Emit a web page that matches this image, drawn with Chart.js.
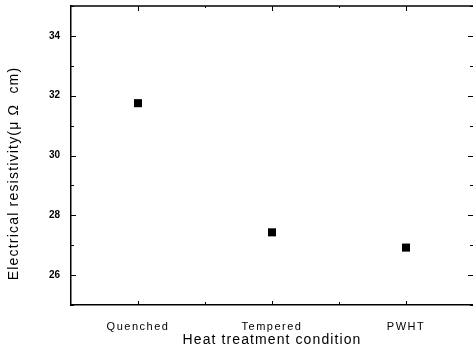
<!DOCTYPE html>
<html>
<head>
<meta charset="utf-8">
<script src="https://cdn.jsdelivr.net/npm/chart.js@4"></script>
<style>
html, body { margin: 0; padding: 0; background: #fff; }
#wrap { width: 473px; height: 349px; }
</style>
</head>
<body>
<div id="wrap"><canvas id="chart" width="473" height="349"></canvas></div>
<script>
// Data
const conditions = ['Quenched', 'Tempered', 'PWHT'];
const resistivity = [31.75, 27.43, 26.92];
const yTickValues = [26, 28, 30, 32, 34];
const yRange = [25, 35];
const xRange = [0.5, 3.5];

// wrap a scale drawing method so its text gets letter spacing (and an optional shift)
function spaced(scale, method, spacing, dy) {
    const orig = scale[method].bind(scale);
    scale[method] = function (area) {
        const ctx = scale.ctx;
        ctx.save();
        ctx.letterSpacing = spacing;
        if (dy) ctx.translate(0, dy);
        orig(area);
        ctx.restore();
    };
}

// inward tick marks on all four sides + top frame line
const frameTicks = {
    id: 'frameTicks',
    beforeDraw(chart) {
        const xs = chart.scales.x, ys = chart.scales.y;
        if (!xs._spaced) {
            spaced(xs, 'drawLabels', '1.5px');
            spaced(xs, 'drawTitle', '1.1px');
            spaced(ys, 'drawTitle', '1.2px', 18);
            xs._spaced = true;
        }
    },
    afterDraw(chart) {
        const ctx = chart.ctx, a = chart.chartArea;
        const xs = chart.scales.x, ys = chart.scales.y;
        ctx.save();
        ctx.strokeStyle = '#000';
        ctx.lineWidth = 1.5;
        ctx.beginPath();
        ctx.moveTo(a.left, a.top);
        ctx.lineTo(a.right, a.top);
        ctx.stroke();

        ctx.lineWidth = 1;
        ctx.beginPath();
        for (let v = yRange[0]; v <= yRange[1]; v++) {
            const y = Math.round(ys.getPixelForValue(v)) + 0.5;
            const major = yTickValues.includes(v);
            ctx.moveTo(a.left, y);
            ctx.lineTo(a.left + (major ? 5 : 3), y);
            ctx.moveTo(a.right, y);
            ctx.lineTo(a.right - (major ? 5 : 3), y);
        }
        for (let v = 1; v <= conditions.length; v += 0.5) {
            const x = Math.round(xs.getPixelForValue(v)) + 0.5;
            const major = Number.isInteger(v);
            ctx.moveTo(x, a.bottom);
            ctx.lineTo(x, a.bottom - (major ? 4 : 3));
            ctx.moveTo(x, a.top);
            ctx.lineTo(x, a.top + (major ? 5 : 2));
        }
        ctx.stroke();
        ctx.restore();
    }
};

const ctx = document.getElementById('chart').getContext('2d');

new Chart(ctx, {
    type: 'scatter',
    data: {
        datasets: [{
            label: 'Electrical resistivity',
            data: resistivity.map((v, i) => ({ x: i + 1, y: v })),
            pointStyle: 'rect',
            pointRadius: 5.7,
            pointHoverRadius: 5.7,
            backgroundColor: '#000',
            borderColor: '#000',
            borderWidth: 0
        }]
    },
    options: {
        responsive: false,
        animation: false,
        events: [],
        layout: { autoPadding: false, padding: { left: 6, top: 6, right: 0, bottom: 0 } },
        plugins: {
            legend: { display: false },
            tooltip: { enabled: false }
        },
        scales: {
            x: {
                type: 'linear',
                min: xRange[0],
                max: xRange[1],
                afterBuildTicks: s => { s.ticks = conditions.map((c, i) => ({ value: i + 1 })); },
                afterFit: s => { s.height = 44; s.paddingLeft = 0; s.paddingRight = 0; },
                grid: { drawOnChartArea: false, drawTicks: false },
                border: { display: true, color: '#000', width: 1.5 },
                ticks: {
                    autoSkip: false,
                    maxRotation: 0,
                    padding: 15,
                    color: '#000',
                    font: { family: 'Liberation Sans, Arial, sans-serif', size: 11 },
                    callback: v => conditions[Math.round(v) - 1]
                },
                title: {
                    display: true,
                    text: 'Heat treatment condition',
                    color: '#000',
                    padding: { top: 2, bottom: 0 },
                    font: { family: 'Liberation Sans, Arial, sans-serif', size: 14 }
                }
            },
            y: {
                min: yRange[0],
                max: yRange[1],
                afterBuildTicks: s => { s.ticks = yTickValues.map(v => ({ value: v })); },
                afterFit: s => { s.width = 65; s.paddingTop = 0; s.paddingBottom = 0; },
                grid: { drawOnChartArea: false, drawTicks: false },
                border: { display: true, color: '#000', width: 1.5 },
                ticks: {
                    padding: 11,
                    color: '#000',
                    font: { family: 'Liberation Sans, Arial, sans-serif', size: 10, weight: 'bold' }
                },
                title: {
                    display: true,
                    text: 'Electrical resistivity(\u03BC \u03A9  cm)',
                    color: '#000',
                    padding: { top: 0, bottom: 0 },
                    font: { family: 'Liberation Sans, Arial, sans-serif', size: 14 }
                }
            }
        }
    },
    plugins: [frameTicks]
});
</script>
</body>
</html>
